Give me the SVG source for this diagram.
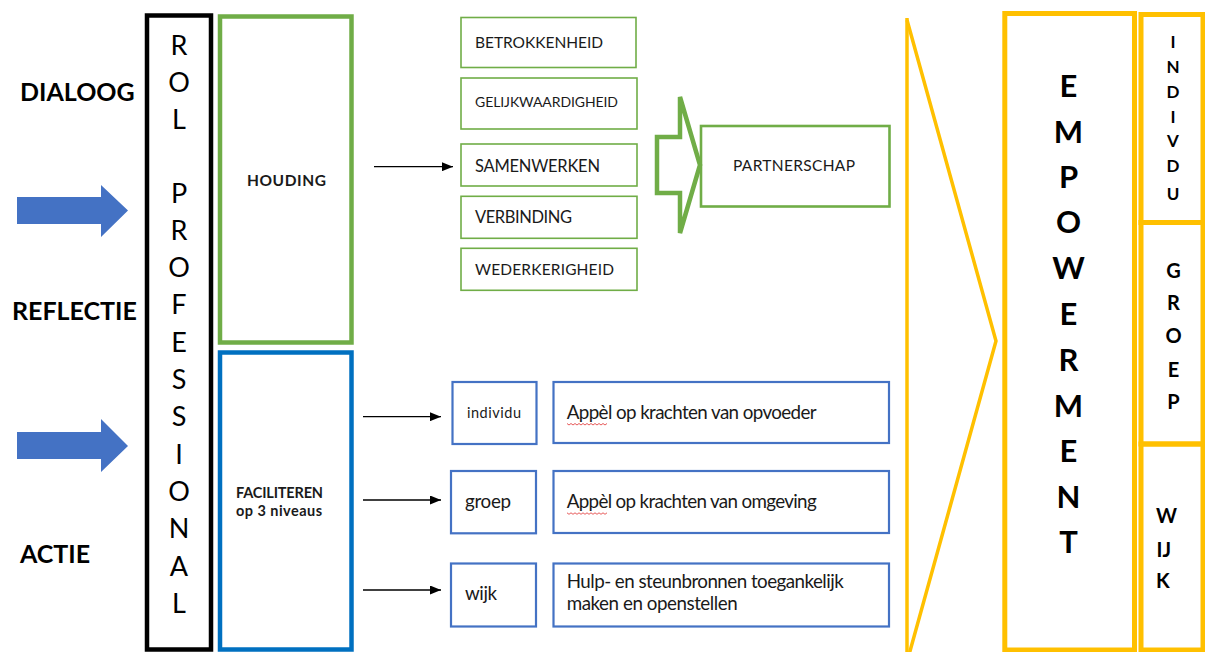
<svg xmlns="http://www.w3.org/2000/svg" width="1205" height="652" viewBox="0 0 1205 652">
<style>
text{font-family:Lato,"Open Sans","Liberation Sans",sans-serif;fill:#1a1a1a}
.b{font-weight:bold}
.lbl{font-size:25px;font-weight:bold;fill:#000}
.rol{font-size:27px;text-anchor:middle;fill:#000}
.emp{font-size:31px;font-weight:bold;text-anchor:middle;fill:#000}
.side{font-size:17px;font-weight:bold;text-anchor:middle;fill:#000}
.side2{font-size:20px;font-weight:bold;fill:#000}
.gbox{fill:#fff;stroke:#70AD47;stroke-width:1.6}
.bbox{fill:#fff;stroke:#4472C4;stroke-width:2.2}
.ybox{fill:none;stroke:#FFC000;stroke-width:5}
.con{stroke:#000;stroke-width:1.3;fill:none}
.t18{font-size:18.8px}
</style>
<defs>
<marker id="ah" markerUnits="userSpaceOnUse" markerWidth="11" markerHeight="9" refX="11" refY="4.5" orient="auto">
<path d="M0,0 L11,4.5 L0,9 z" fill="#000"/>
</marker>
</defs>

<g id="left-labels">
<text class="lbl" x="20" y="101">DIALOOG</text>
<text class="lbl" x="12" y="320">REFLECTIE</text>
<text class="lbl" x="20" y="563">ACTIE</text>
</g>

<g id="blue-arrows" fill="#4472C4">
<polygon points="17,197 101,197 101,185 128,210.5 101,237 101,224 17,224"/>
<polygon points="17,432 101,432 101,419 128,446 101,472 101,459 17,459"/>
</g>

<g id="rol-professional">
<rect x="147" y="15.5" width="64" height="634" fill="#fff" stroke="#000" stroke-width="4.5"/>
<text class="rol" x="179" y="55">R</text>
<text class="rol" x="179" y="92">O</text>
<text class="rol" x="179" y="129">L</text>
<text class="rol" x="179" y="203">P</text>
<text class="rol" x="179" y="240">R</text>
<text class="rol" x="179" y="277">O</text>
<text class="rol" x="179" y="314">F</text>
<text class="rol" x="179" y="352">E</text>
<text class="rol" x="179" y="389">S</text>
<text class="rol" x="179" y="426">S</text>
<text class="rol" x="179" y="464">I</text>
<text class="rol" x="179" y="501">O</text>
<text class="rol" x="179" y="538">N</text>
<text class="rol" x="179" y="576">A</text>
<text class="rol" x="179" y="613">L</text>
</g>

<g id="houding">
<rect x="220" y="16.5" width="131.5" height="326" fill="#fff" stroke="#70AD47" stroke-width="4.5"/>
<text class="b" x="247" y="185.5" font-size="15.5" textLength="79">HOUDING</text>
</g>

<g id="faciliteren">
<rect x="220" y="352.5" width="131.5" height="297" fill="#fff" stroke="#0070C0" stroke-width="4.5"/>
<text class="b" x="236" y="497.5" font-size="14.5" textLength="87">FACILITEREN</text>
<text class="b" x="236" y="516" font-size="14.5" textLength="86">op 3 niveaus</text>
</g>

<g id="betrokkenheid">
<rect class="gbox" x="461" y="17.5" width="175" height="50"/>
<text x="475" y="47.7" font-size="15.5" textLength="128">BETROKKENHEID</text>
</g>
<g id="gelijkwaardigheid">
<rect class="gbox" x="461" y="78" width="176" height="51"/>
<text x="475" y="107.3" font-size="14" textLength="143">GELIJKWAARDIGHEID</text>
</g>
<g id="samenwerken">
<rect class="gbox" x="461" y="144" width="176" height="42"/>
<text x="475" y="171.7" font-size="16.5" textLength="125">SAMENWERKEN</text>
</g>
<g id="verbinding">
<rect class="gbox" x="461" y="196.3" width="176" height="42"/>
<text x="475" y="222.7" font-size="16.5" textLength="97">VERBINDING</text>
</g>
<g id="wederkerigheid">
<rect class="gbox" x="461" y="248.3" width="176" height="42"/>
<text x="475" y="275" font-size="15.5" textLength="139">WEDERKERIGHEID</text>
</g>

<g id="partnerschap">
<rect x="701" y="126" width="188.5" height="80.5" fill="#fff" stroke="#70AD47" stroke-width="2.6"/>
<text x="733" y="170.7" font-size="15.5" textLength="122">PARTNERSCHAP</text>
</g>

<g id="individu">
<rect class="bbox" x="452.5" y="382" width="84" height="62"/>
<text x="467" y="418.3" font-size="14.5" textLength="54">individu</text>
</g>
<g id="appel-opvoeder">
<rect class="bbox" x="553.5" y="382" width="335.5" height="61"/>
<text class="t18" x="566.7" y="419" textLength="250">Appèl op krachten van opvoeder</text>
<path d="M567,423.5 l2,1.5 l2,-1.5 l2,1.5 l2,-1.5 l2,1.5 l2,-1.5 l2,1.5 l2,-1.5 l2,1.5 l2,-1.5 l2,1.5 l2,-1.5 l2,1.5 l2,-1.5 l2,1.5 l2,-1.5 l2,1.5 l2,-1.5 l2,1.5 l2,-1.5" fill="none" stroke="#e03030" stroke-width="0.8"/>
</g>
<g id="groep">
<rect class="bbox" x="451" y="471" width="85" height="62.3"/>
<text class="t18" x="465" y="508.3" textLength="46">groep</text>
</g>
<g id="appel-omgeving">
<rect class="bbox" x="553.5" y="471" width="335.5" height="62"/>
<text class="t18" x="566.7" y="508.3" textLength="250">Appèl op krachten van omgeving</text>
<path d="M567,512.8 l2,1.5 l2,-1.5 l2,1.5 l2,-1.5 l2,1.5 l2,-1.5 l2,1.5 l2,-1.5 l2,1.5 l2,-1.5 l2,1.5 l2,-1.5 l2,1.5 l2,-1.5 l2,1.5 l2,-1.5 l2,1.5 l2,-1.5 l2,1.5 l2,-1.5" fill="none" stroke="#e03030" stroke-width="0.8"/>
</g>
<g id="wijk">
<rect class="bbox" x="451" y="563.5" width="85" height="63"/>
<text class="t18" x="465" y="600" textLength="32">wijk</text>
</g>
<g id="hulp">
<rect class="bbox" x="553.5" y="563.5" width="335.5" height="63"/>
<text class="t18" x="566.7" y="588.3" textLength="277">Hulp- en steunbronnen toegankelijk</text>
<text class="t18" x="566.7" y="610" textLength="171">maken en openstellen</text>
</g>

<g id="connectors">
<line class="con" x1="374" y1="166.7" x2="453" y2="166.7" marker-end="url(#ah)"/>
<line class="con" x1="363" y1="416.7" x2="441" y2="416.7" marker-end="url(#ah)"/>
<line class="con" x1="363" y1="500" x2="441" y2="500" marker-end="url(#ah)"/>
<line class="con" x1="363" y1="590" x2="441" y2="590" marker-end="url(#ah)"/>
<polygon points="657,137 680,137 680,97 700,165 680,233 680,193 657,193" fill="#fff" stroke="#70AD47" stroke-width="4.5" stroke-linejoin="miter"/>
<polyline points="907,20 996,341 907,662" fill="none" stroke="#FFC000" stroke-width="3.5"/>
<line x1="907" y1="18" x2="907" y2="652" stroke="#FFC000" stroke-width="3.5"/>
</g>

<g id="empowerment">
<rect class="ybox" x="1004.8" y="13.5" width="129.7" height="636.5"/>
<text class="emp" x="1068.5" y="97">E</text>
<text class="emp" x="1068.5" y="143">M</text>
<text class="emp" x="1068.5" y="188">P</text>
<text class="emp" x="1068.5" y="233">O</text>
<text class="emp" x="1068.5" y="279">W</text>
<text class="emp" x="1068.5" y="325">E</text>
<text class="emp" x="1068.5" y="371">R</text>
<text class="emp" x="1068.5" y="417">M</text>
<text class="emp" x="1068.5" y="462">E</text>
<text class="emp" x="1068.5" y="508">N</text>
<text class="emp" x="1068.5" y="553">T</text>
</g>

<g id="individu-level">
<rect class="ybox" x="1141" y="14.5" width="62" height="208"/>
<text class="side" x="1173" y="47.7">I</text>
<text class="side" x="1173" y="73.3">N</text>
<text class="side" x="1173" y="97.7">D</text>
<text class="side" x="1173" y="122.7">I</text>
<text class="side" x="1173" y="147.3">V</text>
<text class="side" x="1173" y="172.3">D</text>
<text class="side" x="1173" y="200">U</text>
</g>
<g id="groep-level">
<rect class="ybox" x="1141" y="222.5" width="62" height="221.5"/>
<text class="side2" x="1173.5" y="278.3" text-anchor="middle">G</text>
<text class="side2" x="1173.5" y="310" text-anchor="middle">R</text>
<text class="side2" x="1173.5" y="342.7" text-anchor="middle">O</text>
<text class="side2" x="1173.5" y="376.7" text-anchor="middle">E</text>
<text class="side2" x="1173.5" y="409.3" text-anchor="middle">P</text>
</g>
<g id="wijk-level">
<rect class="ybox" x="1141" y="444" width="62" height="206"/>
<text class="side2" x="1156" y="523.3">W</text>
<text class="side2" x="1156.5" y="556.7">IJ</text>
<text class="side2" x="1156" y="588.3">K</text>
</g>
</svg>
